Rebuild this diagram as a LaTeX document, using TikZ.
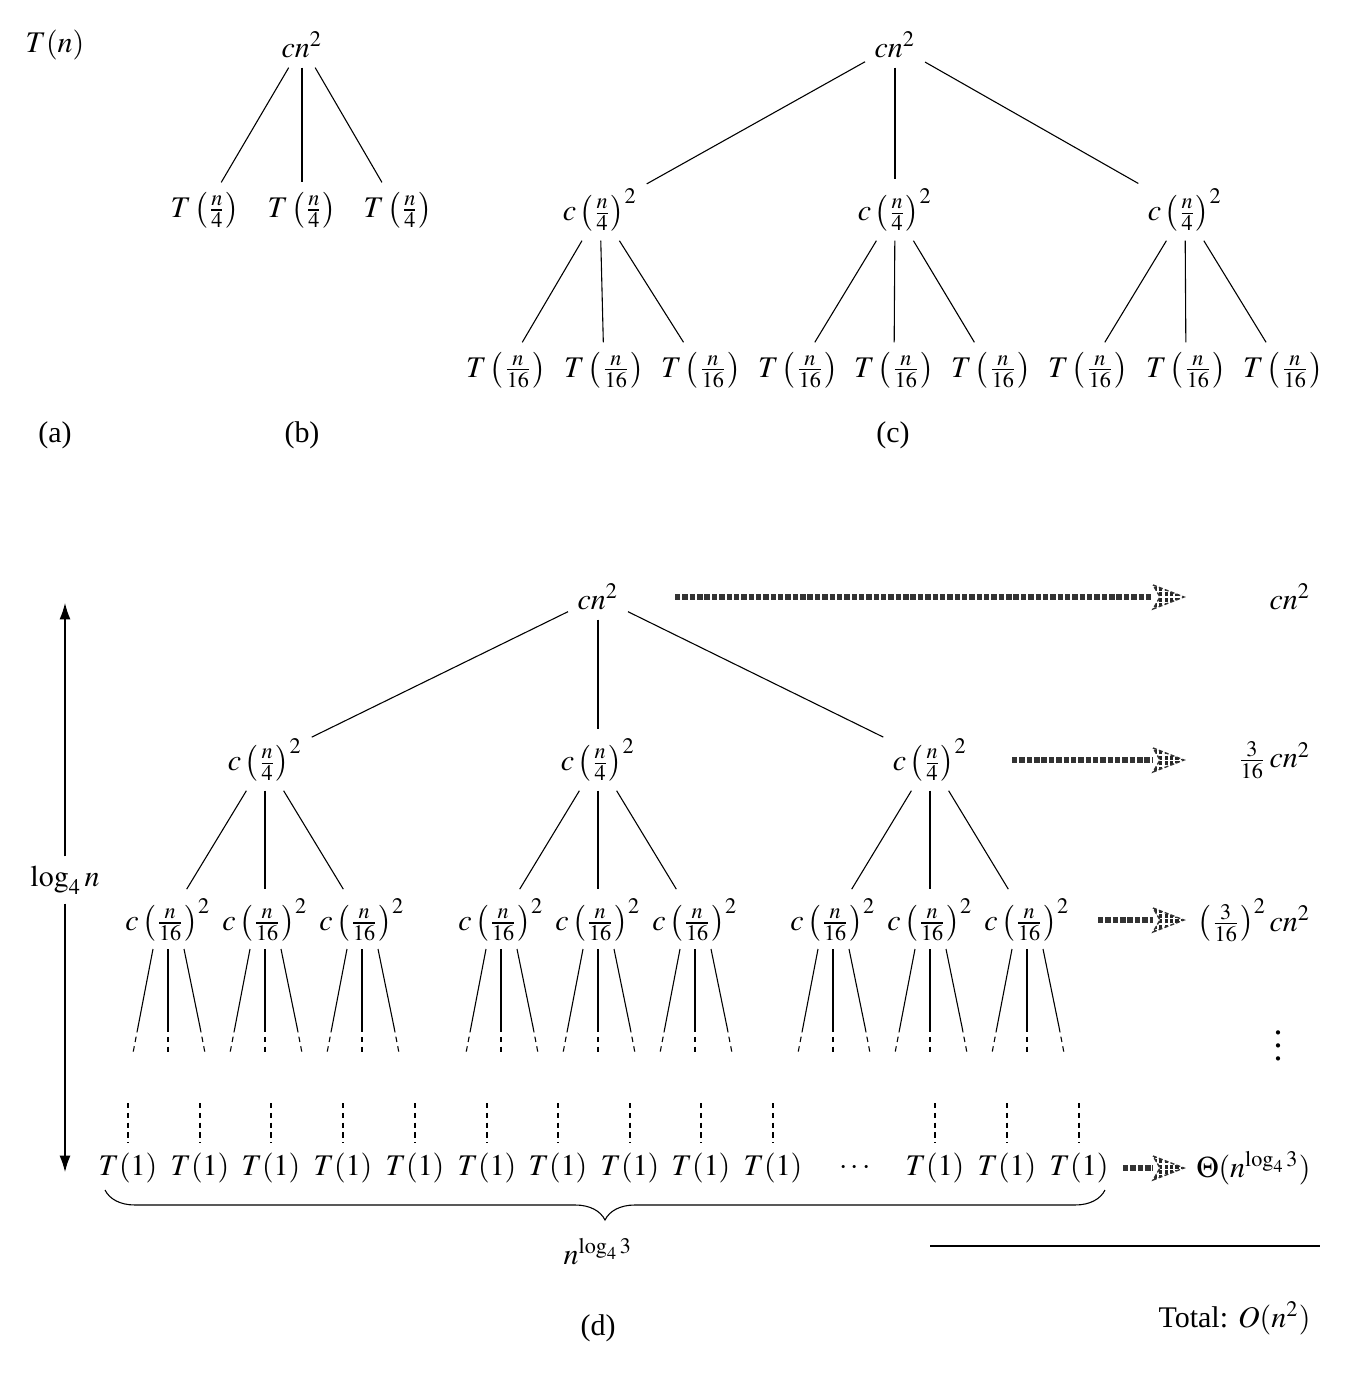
\documentclass[tikz,border=0pt]{standalone}
\usepackage{mathptmx}
\usepackage{fontspec}
\setmainfont{Liberation Serif}
\usetikzlibrary{arrows.meta,calc,decorations.pathreplacing,patterns.meta}

\tikzset{
  sumline/.style={line width=2pt, black!80, dash pattern=on 2pt off 0.7pt},
  sumhead/.style={pattern={Lines[angle=90,distance=2pt,line width=1.2pt]}, pattern color=black!85,
    draw=black!80, line width=0.5pt, dash pattern=on 1.5pt off 0.8pt},
  leafdash/.style={dash pattern=on 2pt off 1.6pt},
}

\begin{document}
\begin{tikzpicture}[x=0.367pt,y=-0.367pt,line width=0.4pt,font=\fontsize{11}{13}\selectfont]
\useasboundingbox (0,0) rectangle (1351,1373);

% (a)
\node (a) at (55,45) {$T(n)$};
\node (la) at (55,435) {(a)};

% (b)
\node (b0) at (302,45) {$cn^2$};
\node (b1) at (205,210) {$T\left(\frac{n}{4}\right)$};
\node (b2) at (302,210) {$T\left(\frac{n}{4}\right)$};
\node (b3) at (398,210) {$T\left(\frac{n}{4}\right)$};
\draw (b0) -- (b1);
\draw (b0) -- (b2);
\draw (b0) -- (b3);
\node (lb) at (302,435) {(b)};

% (c)
\node (c0) at (895,45) {$cn^2$};
\node (c1) at (600,210) {$c\left(\frac{n}{4}\right)^2$};
\node (c2) at (895,210) {$c\left(\frac{n}{4}\right)^2$};
\node (c3) at (1185,210) {$c\left(\frac{n}{4}\right)^2$};
\foreach \x [count=\i] in {506,604,701,798,894,991,1088,1186,1283}
  \node (cg\i) at (\x,370) {$T\left(\frac{n}{16}\right)$};
\foreach \i in {1,2,3} \draw (c0) -- (c\i);
\foreach \i/\j in {1/1,1/2,1/3,2/4,2/5,2/6,3/7,3/8,3/9}
  \draw (c\i) -- (cg\j);
\node (lc) at (893,435) {(c)};

% (d)
\node (d0) at (598,597) {$cn^2$};
\node (d1) at (265,760) {$c\left(\frac{n}{4}\right)^2$};
\node (d2) at (598,760) {$c\left(\frac{n}{4}\right)^2$};
\node (d3) at (930,760) {$c\left(\frac{n}{4}\right)^2$};
\foreach \i in {1,2,3} \draw (d0) -- (d\i);
\foreach \x [count=\i] in {168,265,362,501,598,695,833,930,1027} {
  \node (m\i) at (\x,920) {$c\left(\frac{n}{16}\right)^2$};
  \draw ($(m\i)+(-15,29)$) -- ++(-15,78) coordinate (ml\i);
  \draw[leafdash] (ml\i) -- ++(-5,26);
  \draw ($(m\i)+(0,29)$) -- ++(0,78) coordinate (mm\i);
  \draw[leafdash] (mm\i) -- ++(0,26);
  \draw ($(m\i)+(16,29)$) -- ++(16,78) coordinate (mr\i);
  \draw[leafdash] (mr\i) -- ++(5,26);
}
\foreach \i/\j in {1/1,1/2,1/3,2/4,2/5,2/6,3/7,3/8,3/9}
  \draw (d\i) -- (m\j);

% leaves
\foreach \x [count=\i] in {128,200,271,343,415,487,558,630,701,773,935,1007,1079} {
  \node (t\i) at (\x,1168) {$T(1)$};
  \coordinate (u\i) at (\x,1103);
  \draw[leafdash] (u\i) -- (t\i.north);
}
\node (tdots) at (855,1168) {$\cdots$};

% brace
\coordinate (bl) at (105,1190);
\coordinate (br) at (1105,1190);
\draw[decorate,decoration={brace,mirror,amplitude=11pt}] (bl) -- (br);
\node (nl) at (598,1252) {$n^{\log_4 3}$};

% height
\node (lg) at (65,880) {$\log_4 n$};
\coordinate (ltop) at (65,603);
\coordinate (lbot) at (65,1172);
\draw[-{Latex[length=6pt,width=4pt]}] (lg) -- (ltop);
\draw[-{Latex[length=6pt,width=4pt]}] (lg) -- (lbot);

% row sums
\node[anchor=east] (s0) at (1320,597) {$cn^2$};
\node[anchor=east] (s1) at (1320,760) {$\frac{3}{16}\,cn^2$};
\node[anchor=east] (s2) at (1320,920) {$\left(\frac{3}{16}\right)^2 cn^2$};
\node[scale=1.2] (s3) at (1278,1036) {$\vdots$};
\node[anchor=east] (s4) at (1320,1168) {$\Theta(n^{\log_4 3})$};

\coordinate (g0) at (675,597);  \coordinate (h0) at (1153,597);
\coordinate (g1) at (1012,760); \coordinate (h1) at (1153,760);
\coordinate (g2) at (1098,920); \coordinate (h2) at (1153,920);
\coordinate (g3) at (1123,1168); \coordinate (h3) at (1153,1168);
\foreach \i in {0,1,2,3} {
  \draw[sumline] (g\i) -- (h\i);
  \filldraw[sumhead] (h\i) ++(0,-12) -- ++(31,12) -- ++(-31,12) -- ++(7,-12) -- cycle;
}

% total
\coordinate (tl) at (930,1246);
\coordinate (tr) at (1320,1246);
\draw (tl) -- (tr);
\node[anchor=east] (tot) at (1320,1318) {Total: $O(n^2)$};
\node (ld) at (598,1328) {(d)};
\end{tikzpicture}
\end{document}
